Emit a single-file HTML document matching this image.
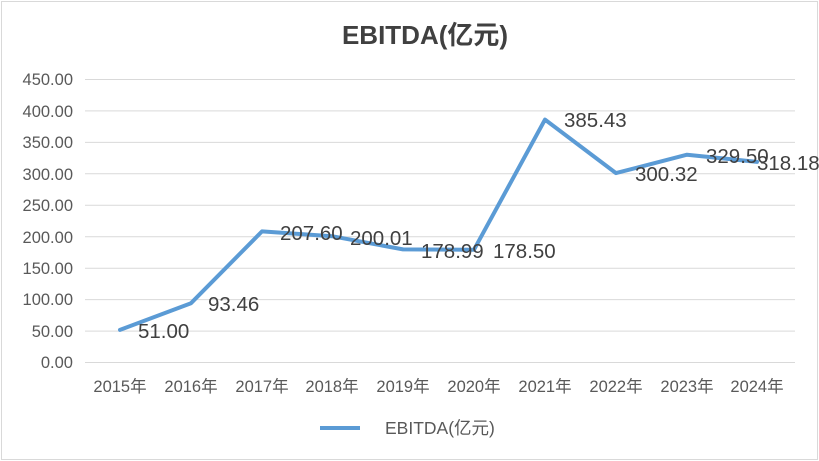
<!DOCTYPE html>
<html><head><meta charset="utf-8"><style>
html,body{margin:0;padding:0;background:#fff;}
svg{display:block;}
</style></head><body>
<svg width="819" height="461" xmlns="http://www.w3.org/2000/svg" font-family="'Liberation Sans','Noto Sans CJK SC',sans-serif">
<rect x="1.5" y="1.5" width="816" height="458" fill="#fff" stroke="#d9d9d9"/>
<text x="425" y="44" text-anchor="middle" font-size="26" font-weight="bold" fill="#404040">EBITDA(亿元)</text>
<g stroke="#d9d9d9" stroke-width="1">
<line x1="85" x2="795" y1="79.5" y2="79.5"/>
<line x1="85" x2="795" y1="110.9" y2="110.9"/>
<line x1="85" x2="795" y1="142.4" y2="142.4"/>
<line x1="85" x2="795" y1="173.8" y2="173.8"/>
<line x1="85" x2="795" y1="205.3" y2="205.3"/>
<line x1="85" x2="795" y1="236.7" y2="236.7"/>
<line x1="85" x2="795" y1="268.2" y2="268.2"/>
<line x1="85" x2="795" y1="299.6" y2="299.6"/>
<line x1="85" x2="795" y1="331.1" y2="331.1"/>
<line x1="85" x2="795" y1="362.5" y2="362.5"/>
</g>
<g font-size="16.5" fill="#595959" text-anchor="end">
<text x="73" y="85">450.00</text>
<text x="73" y="117">400.00</text>
<text x="73" y="148">350.00</text>
<text x="73" y="180">300.00</text>
<text x="73" y="211">250.00</text>
<text x="73" y="243">200.00</text>
<text x="73" y="274">150.00</text>
<text x="73" y="305">100.00</text>
<text x="73" y="337">50.00</text>
<text x="73" y="368">0.00</text>
</g>
<g font-size="16.5" fill="#595959" text-anchor="middle">
<text x="120" y="392">2015年</text>
<text x="191" y="392">2016年</text>
<text x="262" y="392">2017年</text>
<text x="332" y="392">2018年</text>
<text x="403" y="392">2019年</text>
<text x="474" y="392">2020年</text>
<text x="545" y="392">2021年</text>
<text x="616" y="392">2022年</text>
<text x="687" y="392">2023年</text>
<text x="757" y="392">2024年</text>
</g>
<polyline fill="none" stroke="#5b9bd5" stroke-width="4" stroke-linejoin="round" stroke-linecap="round"
points="120,329.9 191,303.2 262,231.4 332,236.2 403,249.4 474,249.7 545,119.6 616,173.1 687,154.7 757,161.9"/>
<g font-size="20.5" fill="#404040">
<text x="138" y="338">51.00</text>
<text x="208" y="311">93.46</text>
<text x="280" y="240">207.60</text>
<text x="350" y="245">200.01</text>
<text x="421" y="258">178.99</text>
<text x="493" y="258">178.50</text>
<text x="564" y="127">385.43</text>
<text x="635" y="181">300.32</text>
<text x="706" y="163">329.50</text>
<text x="757" y="170">318.18</text>
</g>
<line x1="320" x2="360" y1="428" y2="428" stroke="#5b9bd5" stroke-width="4"/>
<text x="385" y="434" font-size="17.5" fill="#595959">EBITDA(亿元)</text>
</svg>
</body></html>
